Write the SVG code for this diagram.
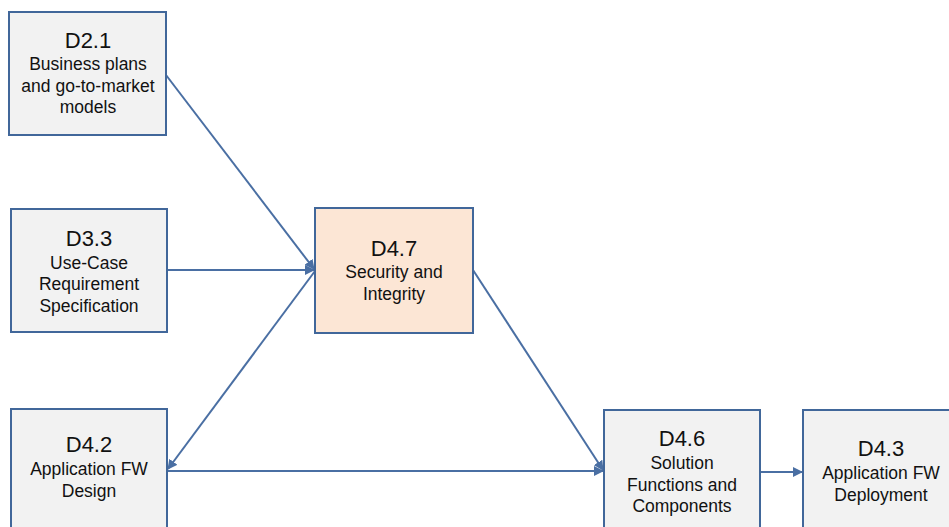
<svg xmlns="http://www.w3.org/2000/svg" width="949" height="527" viewBox="0 0 949 527">
  <style>
    .box { fill: #f2f2f2; stroke: #41679a; stroke-width: 2; }
    .hl { fill: #fce6d5; }
    .title { font-family: "Liberation Sans", Arial, sans-serif; font-size: 22px; fill: #111; text-anchor: middle; }
    .sub { font-family: "Liberation Sans", Arial, sans-serif; font-size: 17.5px; fill: #111; text-anchor: middle; }
    .link { fill: none; stroke: #4a6fa3; stroke-width: 2; }
  </style>
  <defs>
    <marker id="arrow" viewBox="0 0 10 10" refX="9" refY="5" markerWidth="5" markerHeight="5" orient="auto" markerUnits="strokeWidth">
      <path d="M0,0 L10,5 L0,10 z" fill="#4a6fa3"/>
    </marker>
  </defs>

  <g id="connectors">
    <line class="link" x1="166" y1="75" x2="314" y2="269" marker-end="url(#arrow)"/>
    <line class="link" x1="167" y1="270" x2="314" y2="270" marker-end="url(#arrow)"/>
    <line class="link" x1="315" y1="271" x2="168" y2="469" marker-end="url(#arrow)"/>
    <line class="link" x1="167" y1="471" x2="603" y2="471" marker-end="url(#arrow)"/>
    <line class="link" x1="473" y1="270" x2="603" y2="470" marker-end="url(#arrow)"/>
    <line class="link" x1="760" y1="472" x2="802" y2="472" marker-end="url(#arrow)"/>
  </g>

  <g id="d21">
    <rect class="box" x="9" y="12" width="157" height="123"/>
    <text class="title" x="88" y="48">D2.1</text>
    <text class="sub" x="88" y="70">Business plans</text>
    <text class="sub" x="88" y="92">and go-to-market</text>
    <text class="sub" x="88" y="113">models</text>
  </g>

  <g id="d33">
    <rect class="box" x="11" y="209" width="156" height="123"/>
    <text class="title" x="89" y="246">D3.3</text>
    <text class="sub" x="89" y="269">Use-Case</text>
    <text class="sub" x="89" y="290">Requirement</text>
    <text class="sub" x="89" y="312">Specification</text>
  </g>

  <g id="d47">
    <rect class="box hl" x="315" y="208" width="158" height="125"/>
    <text class="title" x="394" y="256">D4.7</text>
    <text class="sub" x="394" y="278">Security and</text>
    <text class="sub" x="394" y="300">Integrity</text>
  </g>

  <g id="d42">
    <rect class="box" x="11" y="409" width="156" height="130"/>
    <text class="title" x="89" y="452">D4.2</text>
    <text class="sub" x="89" y="475">Application FW</text>
    <text class="sub" x="89" y="497">Design</text>
  </g>

  <g id="d46">
    <rect class="box" x="604" y="410" width="156" height="130"/>
    <text class="title" x="682" y="446">D4.6</text>
    <text class="sub" x="682" y="469">Solution</text>
    <text class="sub" x="682" y="491">Functions and</text>
    <text class="sub" x="682" y="512">Components</text>
  </g>

  <g id="d43">
    <rect class="box" x="803" y="410" width="156" height="130"/>
    <text class="title" x="881" y="456">D4.3</text>
    <text class="sub" x="881" y="479">Application FW</text>
    <text class="sub" x="881" y="501">Deployment</text>
  </g>
</svg>
